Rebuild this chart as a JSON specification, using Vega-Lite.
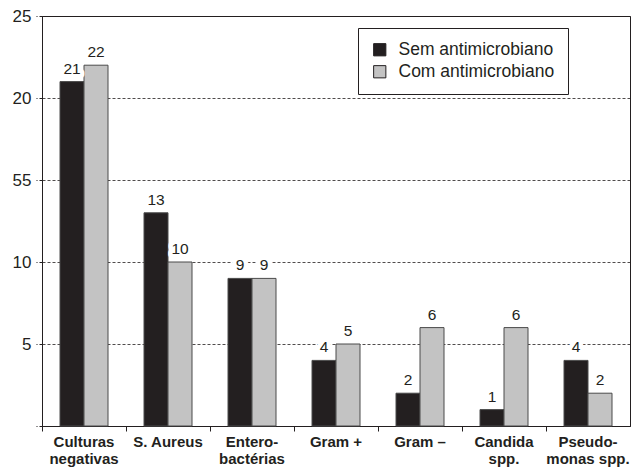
{
  "$schema": "https://vega.github.io/schema/vega-lite/v6.json",
  "width": 588,
  "height": 410,
  "autosize": {"type": "none"},
  "padding": {"left": 42, "top": 16, "right": 10, "bottom": 45},
  "background": "white",
  "config": {
    "font": "Liberation Sans",
    "view": {"stroke": "#231f20", "strokeWidth": 1}
  },
  "data": {
    "values": [
      {"cat": "Culturas|negativas", "serie": "Sem antimicrobiano", "n": 21},
      {"cat": "Culturas|negativas", "serie": "Com antimicrobiano", "n": 22},
      {"cat": "S. Aureus", "serie": "Sem antimicrobiano", "n": 13},
      {"cat": "S. Aureus", "serie": "Com antimicrobiano", "n": 10},
      {"cat": "Entero-|bactérias", "serie": "Sem antimicrobiano", "n": 9},
      {"cat": "Entero-|bactérias", "serie": "Com antimicrobiano", "n": 9},
      {"cat": "Gram +", "serie": "Sem antimicrobiano", "n": 4},
      {"cat": "Gram +", "serie": "Com antimicrobiano", "n": 5},
      {"cat": "Gram –", "serie": "Sem antimicrobiano", "n": 2},
      {"cat": "Gram –", "serie": "Com antimicrobiano", "n": 6},
      {"cat": "Candida|spp.", "serie": "Sem antimicrobiano", "n": 1},
      {"cat": "Candida|spp.", "serie": "Com antimicrobiano", "n": 6},
      {"cat": "Pseudo-|monas spp.", "serie": "Sem antimicrobiano", "n": 4},
      {"cat": "Pseudo-|monas spp.", "serie": "Com antimicrobiano", "n": 2}
    ]
  },
  "encoding": {
    "x": {
      "field": "cat",
      "type": "nominal",
      "sort": null,
      "title": null,
      "scale": {"paddingInner": 0, "paddingOuter": 0},
      "axis": {
        "labelExpr": "split(datum.label, '|')",
        "labelAngle": 0,
        "labelFontWeight": "bold",
        "labelFontSize": 15,
        "labelColor": "#231f20",
        "labelPadding": 3,
        "labelLineHeight": 17,
        "bandPosition": 0,
        "tickSize": 5,
        "tickColor": "#231f20",
        "domainColor": "#231f20",
        "grid": false
      }
    },
    "xOffset": {
      "field": "serie",
      "type": "nominal",
      "sort": ["Sem antimicrobiano", "Com antimicrobiano"],
      "scale": {"paddingInner": 0, "paddingOuter": 0.75}
    },
    "y": {
      "field": "n",
      "type": "quantitative",
      "title": null,
      "scale": {"domain": [0, 25], "nice": false},
      "axis": {
        "values": [0, 5, 10, 15, 20, 25],
        "labelExpr": "datum.value == 15 ? '55' : (datum.value == 0 ? '' : datum.label)",
        "labelFontSize": 17,
        "labelColor": "#231f20",
        "labelPadding": 5,
        "tickSize": 6,
        "tickColor": "#231f20",
        "tickDash": [3, 2],
        "domainColor": "#231f20",
        "grid": true,
        "gridColor": "#231f20",
        "gridDash": [3, 2],
        "gridWidth": 0.8,
        "gridOpacity": 1
      }
    }
  },
  "layer": [
    {
      "mark": {"type": "bar", "stroke": "#4a4a4a", "strokeWidth": 1},
      "encoding": {
        "color": {
          "field": "serie",
          "type": "nominal",
          "sort": ["Sem antimicrobiano", "Com antimicrobiano"],
          "scale": {"domain": ["Sem antimicrobiano", "Com antimicrobiano"], "range": ["#231f20", "#c3c3c3"]},
          "legend": {
            "title": null,
            "orient": "none",
            "legendX": 316,
            "legendY": 12,
            "direction": "vertical",
            "strokeColor": "#231f20",
            "fillColor": "white",
            "padding": 13,
            "symbolType": "square",
            "symbolSize": 150,
            "symbolStrokeColor": "#231f20",
            "symbolStrokeWidth": 1,
            "labelFontSize": 17.5,
            "labelColor": "#231f20",
            "labelOffset": 10,
            "rowPadding": 3,
            "labelLimit": 300
          }
        }
      }
    },
    {
      "mark": {"type": "text", "baseline": "bottom", "dy": -5, "fontSize": 15.5, "fill": "white", "stroke": "white", "strokeWidth": 9, "strokeJoin": "round"},
      "encoding": {"text": {"field": "n", "type": "quantitative"}}
    },
    {
      "mark": {"type": "text", "baseline": "bottom", "dy": -5, "fontSize": 15.5, "color": "#231f20"},
      "encoding": {"text": {"field": "n", "type": "quantitative"}}
    }
  ]
}
